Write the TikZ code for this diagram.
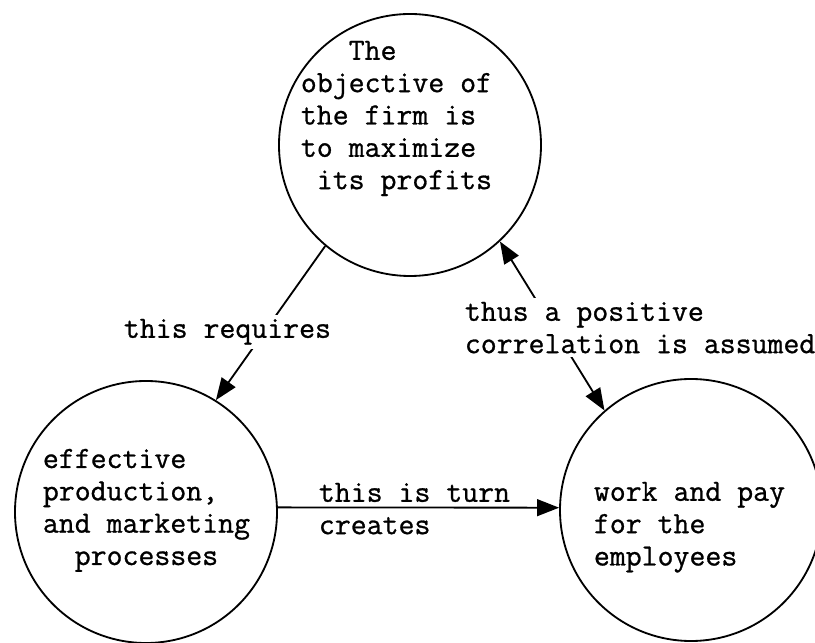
\documentclass[tikz,border=0pt]{standalone}
\usepackage{fontspec}
\setmonofont{Latin Modern Mono}[FakeBold=0.9]
\usepackage{tikz}
\usetikzlibrary{arrows.meta}

\begin{document}
\begin{tikzpicture}[line width=1.3pt, >={Triangle[length=0.55cm, width=0.42cm]},
	bubble/.style={draw, circle, minimum size=6.55cm, inner sep=0pt},
	txt/.style={align=left, anchor=north west, inner sep=0pt},
	every node/.style={font=\ttfamily\fontsize{22}{23}\selectfont}]
		\clip (0,0) rectangle (20.375,16.075);

		% Circles
		\node[bubble] (goal) at (10.25,12.45) {};
		\node[bubble] (prod) at (3.65,3.275) {};
		\node[bubble] (work) at (17.275,3.325) {};

		% Text inside circles
		\node[txt] (goaltxt) at (7.5,15.075) {\hphantom{xxx}The\\objective of\\the firm is\\to maximize\\\hphantom{x}its profits};
		\node[txt] (prodtxt) at (1.05,4.875) {effective\\production,\\and marketing\\\hphantom{xx}processes};
		\node[txt] (worktxt) at (14.825,4.05) {work and pay\\for the\\employees};

		% Arrows between circles
		\draw[->] (goal.230) -- (prod.58);
		\draw[<->] (goal.313) -- (work.131);
		\draw[->] (prod.2) -- (work.179);

		% Labels on the arrows
		\node[txt, fill=white, inner sep=0.1cm] (req) at (2.975,8.225) {this requires};
		\node[txt, fill=white, inner sep=0.1cm] (corr) at (11.5,8.65) {thus a positive\\correlation is assumed};
		\node[txt] (turn) at (7.95,4.025) {this is turn\\creates};
	\end{tikzpicture}
\end{document}
